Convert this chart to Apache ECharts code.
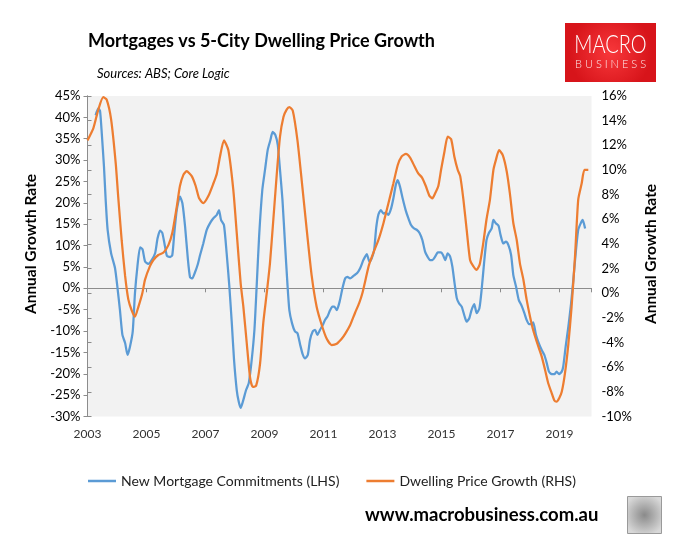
<!DOCTYPE html>
<html>
<head>
<meta charset="utf-8">
<title>Mortgages vs 5-City Dwelling Price Growth</title>
<script src="https://cdn.jsdelivr.net/npm/echarts@6/dist/echarts.min.js"></script>
<style>
    html, body { margin: 0; padding: 0; background: #fff; }
    #chart_mortgage { width: 688px; height: 550px; }
</style>
</head>
<body>
<div id="chart_mortgage"></div>
<script>
// months counted from Jan 2003 (0 = Jan 2003)
var mortgage_month = [3.3,4.4,5.1,5.8,6.7,7.4,8.2,9.6,11.2,12.3,13.2,14.2,15.3,16.3,17.3,18.4,19.3,20.3,21.4,22.4,23.4,24.7,26.1,27.5,28.5,29.5,30.4,31.3,32.3,33.6,34.5,35.3,36.3,37.6,38.6,39.7,40.8,41.7,42.6,43.7,44.8,45.8,47.1,48.5,50.2,51.2,52.6,53.5,54.3,55.5,56.6,57.7,58.7,59.6,60.7,61.5,62.3,63.4,64.5,65.6,66.8,67.9,68.8,69.8,71.1,72.2,73.3,74.4,75.3,76.4,77.4,78.3,79.3,80.4,81.3,82.1,83.2,84.4,85.4,86.5,87.5,88.5,89.6,90.5,91.6,92.6,93.5,94.6,95.7,96.6,97.6,98.7,99.6,100.4,101.4,102.6,103.7,104.8,105.7,106.8,108.2,109.6,110.9,112.2,113.6,114.7,115.6,116.6,117.4,118.3,119.3,120.4,121.3,122.4,123.5,124.4,125.4,126.2,127.1,128.2,129.4,130.5,131.6,132.8,133.9,135,136.2,137.3,138.3,139.3,140.3,141.4,142.5,143.8,144.6,145.5,146.5,147.5,148.4,149.3,150.2,151.1,152.2,153.4,154.2,155.3,156.2,157.3,158.3,159.4,160.3,161.3,162.3,163.3,164.4,165.1,166.1,167.2,168,169.1,170.2,171.2,172.3,173.2,174.3,175.4,176.6,177.7,178.6,179.6,180.5,181.3,182.4,183.5,184.7,185.8,186.8,187.7,188.8,189.9,190.8,191.8,192.9,193.5,194.5,195.6,196.7,197.6,198.7,199.6,200.6,201.4,202.4];
var mortgage_growth = [40.5,42.1,41.5,36.3,28.5,20.6,13.6,8.2,4.7,-0.4,-5.1,-10.9,-12.8,-15.6,-13.6,-10.1,-1.2,5.1,9.6,9.1,6.3,5.7,6.6,8.2,11.7,13.5,13.0,10.5,7.6,7.3,7.8,12.9,18.3,21.5,19.9,14.4,7.0,2.6,2.3,3.7,5.5,7.8,10.5,13.7,15.6,16.4,17.2,18.3,16.0,14.8,8.2,0.4,-8.2,-16.7,-23.8,-26.5,-28.0,-26.1,-23.8,-22.2,-16.7,-9.7,0.4,12.1,23.0,27.7,32.4,34.7,36.6,35.9,33.5,27.7,20.7,9.8,1.2,-5.1,-8.2,-10.1,-10.5,-13.2,-15.4,-16.4,-15.6,-12.1,-10.1,-9.7,-10.9,-9.7,-8.6,-7.4,-6.6,-5.1,-4.3,-4.3,-5.1,-3.0,0,2.3,2.7,2.3,2.9,3.5,4.7,6.6,8.0,6.2,7.0,9.0,14.0,17.2,18.3,17.5,17.7,17.2,18.7,21.0,24.2,25.3,23.8,21.0,18.3,16.4,14.8,14.0,13.7,13.0,11.3,8.6,7.4,6.6,6.6,7.4,8.4,8.4,7.8,6.6,8.2,7.4,5.1,1.2,-2.3,-3.5,-4.3,-6.6,-7.8,-7.0,-5.1,-3.7,-5.8,-4.7,-0.4,5.9,11.3,13.0,14.0,16.0,15.2,14.6,12.5,10.5,10.9,10.1,7.8,3.1,0.4,-2.7,-4.1,-5.8,-7.4,-8.4,-8.4,-8.0,-10.9,-12.8,-14.4,-15.6,-17.5,-19.5,-20.1,-20.1,-19.5,-20.1,-19.5,-18.3,-13.6,-8.9,-3.5,1.9,9.0,13.7,15.2,16.0,14.0];

var price_month = [0,2.4,4.4,6.4,7.8,9.6,11.5,12.5,13.9,15.3,16.6,18,19.3,20.7,22.3,23.4,25.4,26.8,28.8,30.9,32.9,34.5,36.3,37.6,39,40.3,42.4,44,45.4,47.1,49.2,51.2,52.6,53.9,55.5,57.3,59.3,60.7,62.3,63.4,64.8,66.1,67.2,68.6,70.2,71.5,72.9,74.2,75.6,77,78.3,79.7,81,82.1,83.5,85.4,87.1,89.2,91.2,93.2,95.3,97.3,99.3,101.4,103.4,104.8,106.8,108.8,110.5,111.8,113.2,114.5,116.3,118.3,120.4,122.4,124.4,126.2,127.8,129.5,131.2,133,134.6,136,137.6,139.1,140.3,141.4,142.7,143.8,145.2,146.5,147.9,149.2,150.6,151.6,152.9,154.2,155.6,156.9,158.3,159.6,161,162.3,163.7,165.1,166.1,167.4,168.9,170.5,171.8,173.2,174.6,175.9,177.3,178.6,180,181.3,183,184.7,186.1,187.4,188.8,189.9,190.8,191.9,192.9,194.2,195.6,196.9,198.3,199.6,201,202.1,203.7];
var price_growth = [12.4,13.4,14.9,15.9,15.7,14.1,10.5,7.8,4.3,1.4,-0.5,-1.4,-1.9,-1.1,0,1.1,2.2,2.7,3.1,3.3,3.9,4.9,7.0,8.7,9.6,9.9,9.5,8.7,7.7,7.3,7.9,8.9,9.7,11.1,12.4,11.6,8.4,4.9,0.8,-1.1,-4.1,-6.8,-7.6,-7.5,-5.7,-2.4,0,2.4,6.0,9.7,12.7,14.3,14.9,15.1,14.8,12.4,9.2,5.1,1.4,-1.1,-2.6,-3.7,-4.2,-4.1,-3.7,-3.3,-2.6,-1.6,-0.8,0,1.2,2.3,3.3,4.3,5.7,7.3,8.9,10.4,11.1,11.3,11.0,10.3,9.7,9.4,8.7,7.9,7.7,8.1,8.7,10,11.5,12.7,12.5,11.1,10,9.5,7.6,5.2,2.7,2.2,1.9,2.4,4.1,6.0,7.6,10,10.8,11.6,11.2,9.9,8.1,5.7,4.3,2.4,1.1,-0.5,-1.9,-3.0,-4.1,-5.1,-6.2,-7.3,-8.1,-8.7,-8.8,-8.5,-8.0,-6.5,-4.1,-1.1,3.0,7.6,8.9,10,10];

var series_names = ['New Mortgage Commitments (LHS)', 'Dwelling Price Growth (RHS)'];
var start_year = 2003;

var FONT = 'Lato, "Open Sans", sans-serif';
var myChart = null;

function zipData(xs, ys){
    var out = [];
    for(var i=0;i<xs.length;i++){
        out.push([xs[i], ys[i]]);
    }
    return out;
}

function percentLabel(v){
    return v + '%';
}

function initMortgageChart(){
    myChart = echarts.init(document.getElementById('chart_mortgage'));
    var option = {
        backgroundColor: '#ffffff',
        textStyle: { fontFamily: FONT },
        title: [
            {
                text: 'Mortgages vs 5-City Dwelling Price Growth',
                left: 83,
                top: 27,
                textStyle: { fontFamily: FONT, fontSize: 18, fontWeight: 'bold', color: '#000' }
            },
            {
                text: 'Sources: ABS; Core Logic',
                left: 92,
                top: 62,
                textStyle: { fontFamily: FONT, fontSize: 13, fontStyle: 'italic', fontWeight: 'normal', color: '#000' }
            }
        ],
        legend: {
            left: 83,
            top: 469,
            icon: 'rect',
            itemWidth: 28,
            itemHeight: 2.5,
            itemGap: 27,
            textStyle: { fontFamily: FONT, fontSize: 14, color: '#222' },
            data: series_names
        },
        grid: {
            show: true,
            left: 87.5,
            right: 96.5,
            top: 96,
            bottom: 133.5,
            backgroundColor: '#F2F2F2',
            borderWidth: 0
        },
        xAxis: [
            {
                type: 'value',
                min: 0,
                max: 205,
                interval: 24,
                position: 'bottom',
                axisLine: { show: false, onZero: false },
                axisTick: { show: false },
                splitLine: { show: false },
                axisLabel: {
                    margin: 12,
                    fontFamily: FONT,
                    fontSize: 12,
                    color: '#333',
                    formatter: function(v){
                        return v % 24 === 0 ? String(start_year + v / 12) : '';
                    }
                }
            },
            {
                // zero line of the left axis, with ticks
                type: 'value',
                min: 0,
                max: 205,
                interval: 24,
                position: 'bottom',
                axisLine: { show: true, onZero: true, onZeroAxisIndex: 0, lineStyle: { color: '#8c8c8c', width: 1 } },
                axisTick: { show: true, length: 4, lineStyle: { color: '#8c8c8c' } },
                axisLabel: { show: false },
                splitLine: { show: false }
            }
        ],
        yAxis: [
            {
                type: 'value',
                min: -30,
                max: 45,
                interval: 5,
                axisLine: { show: true, lineStyle: { color: '#8c8c8c' } },
                axisTick: { show: true, length: 4, lineStyle: { color: '#8c8c8c' } },
                splitLine: { show: false },
                axisLabel: { margin: 7, fontFamily: FONT, fontSize: 13, color: '#000', formatter: percentLabel }
            },
            {
                type: 'value',
                min: -10,
                max: 16,
                interval: 2,
                position: 'right',
                axisLine: { show: true, lineStyle: { color: '#8c8c8c' } },
                axisTick: { show: true, length: 4, lineStyle: { color: '#8c8c8c' } },
                splitLine: { show: false },
                axisLabel: { margin: 10, fontFamily: FONT, fontSize: 13, color: '#000', formatter: percentLabel }
            }
        ],
        series: [
            {
                name: series_names[0],
                type: 'line',
                xAxisIndex: 0,
                yAxisIndex: 0,
                symbol: 'none',
                smooth: 0.2,
                color: '#5B9BD5',
                lineStyle: { width: 2.25, color: '#5B9BD5' },
                data: zipData(mortgage_month, mortgage_growth)
            },
            {
                name: series_names[1],
                type: 'line',
                xAxisIndex: 0,
                yAxisIndex: 1,
                symbol: 'none',
                smooth: 0.2,
                color: '#ED7D31',
                lineStyle: { width: 2.25, color: '#ED7D31' },
                data: zipData(price_month, price_growth)
            }
        ],
        graphic: [
            // axis titles
            {
                type: 'text',
                x: 31, y: 244,
                rotation: Math.PI / 2,
                style: { text: 'Annual Growth Rate', fill: '#000', font: 'bold 15.5px ' + FONT, textAlign: 'center', textVerticalAlign: 'middle' }
            },
            {
                type: 'text',
                x: 651, y: 254,
                rotation: Math.PI / 2,
                style: { text: 'Annual Growth Rate', fill: '#000', font: 'bold 15.5px ' + FONT, textAlign: 'center', textVerticalAlign: 'middle' }
            },
            // MACRO BUSINESS logo
            {
                type: 'rect',
                shape: { x: 565, y: 23, width: 91, height: 59 },
                style: {
                    fill: new echarts.graphic.RadialGradient(0.5, 0.5, 0.7, [
                        { offset: 0, color: '#F8383B' },
                        { offset: 1, color: '#D7141A' }
                    ])
                }
            },
            {
                type: 'text',
                x: 610.5, y: 45,
                scaleX: 0.8,
                style: { text: 'MACRO', fill: '#fff', font: '300 25px ' + FONT, textAlign: 'center', textVerticalAlign: 'middle' }
            },
            {
                type: 'text',
                x: 610.5, y: 64,
                style: { text: 'B U S I N E S S', fill: '#fff', font: '300 11px ' + FONT, textAlign: 'center', textVerticalAlign: 'middle', opacity: 0.9 }
            },
            {
                type: 'text',
                x: 365, y: 515,
                style: { text: 'www.macrobusiness.com.au', fill: '#000', font: 'bold 18.5px ' + FONT, textVerticalAlign: 'middle' }
            },
            // wolf picture placeholder
            {
                type: 'rect',
                shape: { x: 627.5, y: 496.5, width: 34, height: 37 },
                style: {
                    fill: new echarts.graphic.RadialGradient(0.5, 0.5, 0.6, [
                        { offset: 0, color: '#8a8a8a' },
                        { offset: 1, color: '#d8d8d8' }
                    ]),
                    stroke: '#9a9a9a',
                    lineWidth: 1
                }
            }
        ]
    };
    myChart.setOption(option);
}

initMortgageChart();
</script>
</body>
</html>
